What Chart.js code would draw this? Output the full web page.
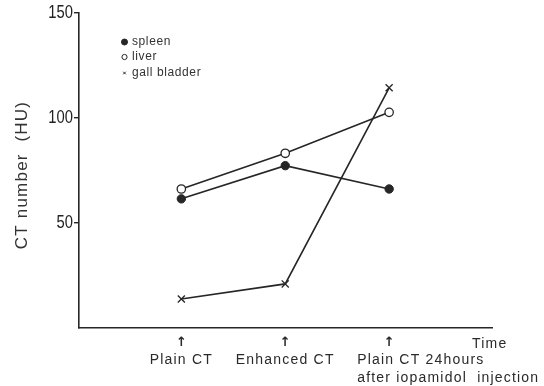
<!DOCTYPE html>
<html>
<head>
<meta charset="utf-8">
<script src="https://cdn.jsdelivr.net/npm/chart.js@4/dist/chart.umd.min.js"></script>
<style>
  html, body { margin: 0; padding: 0; background: #fff; }
  #wrap { width: 544px; height: 386px; }
</style>
</head>
<body>
<div id="wrap"><canvas id="c" width="544" height="386"></canvas></div>
<script>
// Time points along the x axis (each may wrap onto several lines)
const categories = [
  ['Plain CT'],
  ['Enhanced CT'],
  ['Plain CT 24hours', 'after iopamidol  injection']
];
// CT numbers (HU) at each time point
const spleen = [61.5, 77.3, 66.2];
const liver = [66.2, 83.2, 102.7];
const gallBladder = [13.8, 21.0, 114.4];
// y-axis tick values
const yTicks = [50, 100, 150];

const INK = '#262626';
const SANS = '"Liberation Sans", Arial, Helvetica, sans-serif';

const toPoints = arr => arr.map((v, i) => ({ x: i, y: v }));

const datasets = [
  { label: 'spleen', data: toPoints(spleen), pointStyle: 'circle', pointRadius: 4.2,
    pointBackgroundColor: INK, pointBorderColor: INK, pointBorderWidth: 1 },
  { label: 'liver', data: toPoints(liver), pointStyle: 'circle', pointRadius: 4.2,
    pointBackgroundColor: '#fff', pointBorderColor: INK, pointBorderWidth: 1.3 },
  { label: 'gall bladder', data: toPoints(gallBladder), pointStyle: 'crossRot', pointRadius: 5,
    pointBackgroundColor: INK, pointBorderColor: INK, pointBorderWidth: 1.3 }
].map(d => Object.assign({
  showLine: true, borderColor: INK, borderWidth: 1.6, fill: false, tension: 0
}, d));

// small symbol legend plus axis annotations drawn as canvas text
const annotations = {
  id: 'annotations',
  afterDraw(chart) {
    const ctx = chart.ctx;
    const xs = chart.scales.x;
    const ys = chart.scales.y;
    ctx.save();

    // condensed y tick labels
    ctx.fillStyle = '#222';
    ctx.font = '18px ' + SANS;
    ctx.textAlign = 'right';
    ctx.textBaseline = 'middle';
    ys.ticks.forEach(t => {
      const py = ys.getPixelForValue(t.value);
      ctx.save();
      ctx.translate(73, py);
      ctx.scale(0.82, 1);
      ctx.fillText(String(t.value), 0, 0);
      ctx.restore();
    });

    // legend
    const legendRows = [42, 57, 73];
    const legendRadius = [3, 2.6, 1.8];
    chart.data.datasets.forEach((ds, i) => {
      const y = legendRows[i];
      ctx.strokeStyle = INK;
      ctx.fillStyle = ds.pointBackgroundColor;
      ctx.lineWidth = 1;
      Chart.helpers.drawPoint(ctx, { pointStyle: ds.pointStyle, radius: legendRadius[i], rotation: 0, borderWidth: 1 }, 124.5, y);
      ctx.fillStyle = '#333';
      ctx.font = '12px ' + SANS;
      ctx.letterSpacing = '0.6px';
      ctx.textAlign = 'left';
      ctx.textBaseline = 'middle';
      ctx.fillText(ds.label, 132, y);
    });

    // y-axis title
    ctx.save();
    ctx.translate(22, 175);
    ctx.rotate(-Math.PI / 2);
    ctx.font = '17px ' + SANS;
    ctx.letterSpacing = '1.2px';
    ctx.textAlign = 'center';
    ctx.textBaseline = 'middle';
    ctx.fillStyle = '#333';
    ctx.fillText('CT number  (HU)', 0, 0);
    ctx.restore();

    // arrows and time-point labels under the x axis
    ctx.fillStyle = '#2a2a2a';
    ctx.textBaseline = 'alphabetic';
    categories.forEach((lines, i) => {
      const px = xs.getPixelForValue(i);
      ctx.font = 'bold 13px "DejaVu Sans", sans-serif';
      ctx.letterSpacing = '0px';
      ctx.textAlign = 'center';
      ctx.fillText('\u2191', px, 346);
      ctx.font = '14px ' + SANS;
      ctx.letterSpacing = '1.2px';
      if (lines.length === 1) {
        ctx.textAlign = 'center';
        ctx.fillText(lines[0], px, 364);
      } else {
        ctx.textAlign = 'left';
        lines.forEach((t, k) => ctx.fillText(t, px - 32, 364 + k * 18));
      }
    });
    ctx.textAlign = 'left';
    ctx.fillText('Time', 472, 348);
    ctx.restore();
  }
};

new Chart(document.getElementById('c'), {
  type: 'scatter',
  data: { datasets },
  options: {
    responsive: false,
    animation: false,
    events: [],
    layout: { padding: { left: 0, top: 13, right: 52, bottom: 0 } },
    plugins: { legend: { display: false }, tooltip: { enabled: false } },
    scales: {
      x: {
        type: 'linear', min: -0.985, max: 2.99,
        grid: { display: false },
        border: { display: true, color: INK, width: 1.6 },
        ticks: { display: false },
        afterFit(scale) { scale.height = 58; }
      },
      y: {
        type: 'linear', min: 0, max: 150,
        afterBuildTicks(scale) { scale.ticks = yTicks.map(v => ({ value: v })); },
        grid: { display: true, drawOnChartArea: false, drawTicks: true, tickLength: 5, color: INK, lineWidth: 1.4 },
        border: { display: true, color: INK, width: 1.6 },
        ticks: { display: false },
        afterFit(scale) { scale.width = 79; }
      }
    }
  },
  plugins: [annotations]
});
</script>
</body>
</html>
